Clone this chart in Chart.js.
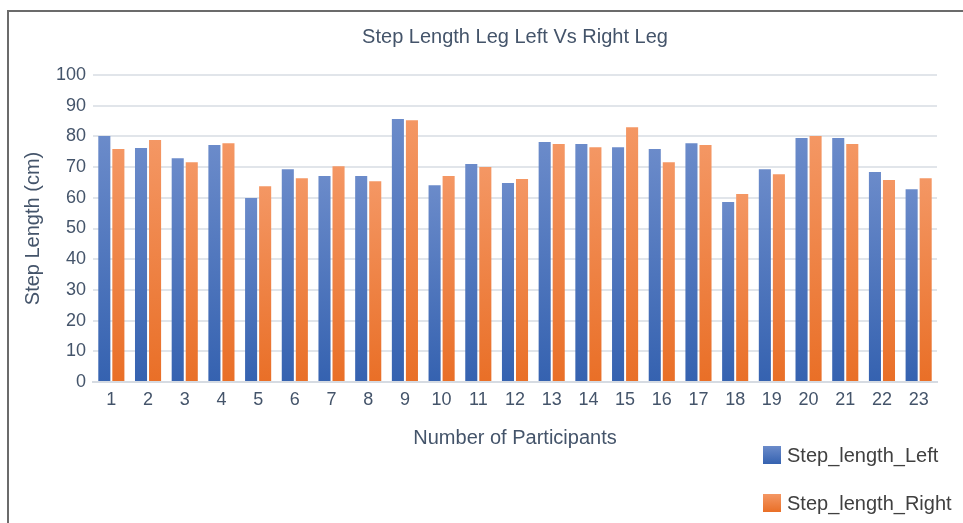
<!DOCTYPE html>
<html>
<head>
<meta charset="utf-8">
<script src="https://cdn.jsdelivr.net/npm/chart.js@4"></script>
<style>
  html, body { margin: 0; padding: 0; background: #fff; }
  #wrap { position: relative; width: 963px; height: 523px; overflow: hidden; }
  #frame { position: absolute; left: 7px; top: 10px; right: -10px; bottom: -10px;
           border-left: 2px solid #6b6b6b; border-top: 2px solid #6b6b6b; }
  canvas { position: absolute; left: 0; top: 0; }
  #legend { position: absolute; left: 763px; top: 443px; font-family: "Liberation Sans", Arial, sans-serif;
            font-size: 20px; color: #404040; }
  #legend div { display: flex; align-items: center; height: 24px; margin-bottom: 24px; }
  #legend span.box { width: 18px; height: 18px; margin-right: 6px; display: inline-block; }
</style>
</head>
<body>
<div id="wrap">
  <div id="frame"></div>
  <canvas id="stepChart" width="963" height="523"></canvas>
  <div id="legend"></div>
</div>
<script>
// participants 1..23
const participants = ["1","2","3","4","5","6","7","8","9","10","11","12","13","14","15","16","17","18","19","20","21","22","23"];

// step length (cm)
const stepLeft  = [80.1, 76.2, 72.9, 77.2, 59.9, 69.3, 67.1, 67.1, 85.7, 64.1, 71.0, 64.8, 78.2, 77.5, 76.5, 75.9, 77.8, 58.6, 69.3, 79.5, 79.5, 68.4, 62.8];
const stepRight = [75.9, 78.8, 71.6, 77.8, 63.8, 66.4, 70.3, 65.4, 85.3, 67.1, 70.0, 66.1, 77.5, 76.5, 83.0, 71.6, 77.2, 61.2, 67.7, 80.1, 77.5, 65.8, 66.4];

const textColor = "#44546A";
const gridColor = "#e1e5ea";

// vertical gradient for each bar, light at the top
function barFill(top, bottom) {
  return (context) => {
    const chart = context.chart;
    if (!chart.chartArea || context.parsed == null) return bottom;
    const y = chart.scales.y;
    const y0 = y.getPixelForValue(0);
    const y1 = y.getPixelForValue(context.parsed.y);
    const g = chart.ctx.createLinearGradient(0, y1, 0, y0);
    g.addColorStop(0, top);
    g.addColorStop(1, bottom);
    return g;
  };
}

const seriesInfo = [
  { label: "Step_length_Left", data: stepLeft, top: "#6b8bca", bottom: "#3562b0" },
  { label: "Step_length_Right", data: stepRight, top: "#f49764", bottom: "#e96f27" },
];

const ctx = document.getElementById("stepChart").getContext("2d");
new Chart(ctx, {
  type: "bar",
  data: {
    labels: participants,
    datasets: seriesInfo.map(s => ({
      label: s.label,
      data: s.data,
      backgroundColor: barFill(s.top, s.bottom),
      borderWidth: 0,
      categoryPercentage: 0.765,
      barPercentage: 0.86,
    })),
  },
  options: {
    responsive: false,
    animation: false,
    layout: { padding: { left: 17, right: 26, top: 0, bottom: 0 } },
    font: { family: "'Liberation Sans', Arial, sans-serif" },
    plugins: {
      legend: { display: false },
      tooltip: { enabled: false },
      title: {
        display: true,
        fullSize: false, // centre over the plot area
        text: "Step Length Leg Left Vs Right Leg",
        color: textColor,
        font: { family: "'Liberation Sans', Arial, sans-serif", size: 20, weight: "normal" },
        padding: { top: 25, bottom: 26 },
      },
    },
    scales: {
      x: {
        grid: { display: false, drawTicks: false },
        border: { display: true, color: "#d6dbe2", width: 2 },
        ticks: {
          color: textColor,
          padding: 7,
          maxRotation: 0,
          autoSkip: false,
          font: { family: "'Liberation Sans', Arial, sans-serif", size: 18 },
        },
        title: {
          display: true,
          text: "Number of Participants",
          color: textColor,
          font: { family: "'Liberation Sans', Arial, sans-serif", size: 20 },
          padding: { top: 0, bottom: 73 },
        },
        afterFit: (scale) => { scale.height = 141; },
      },
      y: {
        min: 0,
        max: 100,
        grid: { color: gridColor, lineWidth: 2, drawTicks: false },
        border: { display: false },
        ticks: {
          stepSize: 10,
          color: textColor,
          padding: 7,
          font: { family: "'Liberation Sans', Arial, sans-serif", size: 18 },
        },
        title: {
          display: true,
          text: "Step Length (cm)",
          color: textColor,
          font: { family: "'Liberation Sans', Arial, sans-serif", size: 20 },
          padding: { top: 4, bottom: 0 },
        },
        afterFit: (scale) => { scale.width = 93 - 17; },
      },
    },
  },
});

// legend stacked at the lower right, as in the original
const legendEl = document.getElementById("legend");
seriesInfo.forEach(s => {
  const row = document.createElement("div");
  const box = document.createElement("span");
  box.className = "box";
  box.style.background = `linear-gradient(${s.top}, ${s.bottom})`;
  row.appendChild(box);
  row.appendChild(document.createTextNode(s.label));
  legendEl.appendChild(row);
});
</script>
</body>
</html>
